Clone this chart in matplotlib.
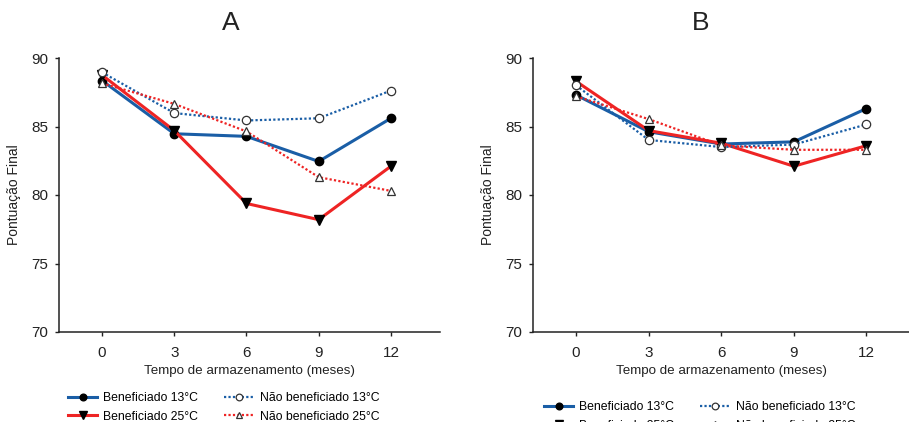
import matplotlib
matplotlib.use("Agg")
import matplotlib.pyplot as plt

# tempo de armazenamento (meses)
meses = [0, 3, 6, 9, 12]
meses_ticks = [0, 3, 6, 9, 12]
y_ticks = [70, 75, 80, 85, 90]

# painel A
a_benef_13 = [88.35, 84.47, 84.28, 82.45, 85.6]
a_benef_25 = [88.75, 84.7, 79.38, 78.2, 82.1]
a_nao_13 = [88.95, 85.98, 85.44, 85.6, 87.62]
a_nao_25 = [88.15, 86.65, 84.64, 81.3, 80.3]

# painel B
b_benef_13 = [87.3, 84.62, 83.72, 83.88, 86.31]
b_benef_25 = [88.3, 84.7, 83.78, 82.1, 83.6]
b_nao_13 = [88.0, 84.02, 83.5, 83.68, 85.15]
b_nao_25 = [87.2, 85.54, 83.62, 83.3, 83.3]

BLUE = "#1a5ea6"
RED = "#ee2424"
W, H = 909, 422

plt.rcParams['font.family'] = ['Liberation Sans', 'DejaVu Sans']

fig = plt.figure(figsize=(W / 100, H / 100), dpi=100)


def px_axes(left, right, top, bottom):
    return fig.add_axes([left / W, 1 - bottom / H, (right - left) / W, (bottom - top) / H])


def draw_panel(ax, b13, b25, n13, n25, xlim, title, title_x, leg_xy):
    ax.plot(meses, b13, color=BLUE, lw=2.2, marker="o", ms=6, mfc="black", mec="black",
            label="Beneficiado 13°C")
    ax.plot(meses, b25, color=RED, lw=2.2, marker="v", ms=6.5, mfc="black", mec="black",
            label="Beneficiado 25°C")
    ax.plot(meses, n13, color=BLUE, lw=1.6, ls=(0, (1, 1)), marker="o", ms=6, mfc="white",
            mec="#333333", mew=0.9, label="Não beneficiado 13°C")
    ax.plot(meses, n25, color=RED, lw=1.6, ls=(0, (1, 1)), marker="^", ms=6, mfc="white",
            mec="#333333", mew=0.9, label="Não beneficiado 25°C")
    ax.set_xlim(*xlim)
    ax.set_ylim(70, 90)
    ax.set_xticks(meses_ticks)
    ax.set_yticks(y_ticks)
    for s in ["top", "right"]:
        ax.spines[s].set_visible(False)
    for s in ["left", "bottom"]:
        ax.spines[s].set_color("#222222")
        ax.spines[s].set_linewidth(1.1)
    ax.tick_params(direction="out", length=3, width=1, labelsize=11, colors="#222222")
    ax.tick_params(axis="x", pad=7)
    ax.tick_params(axis="y", pad=5)
    ax.set_xlabel("Tempo de armazenamento (meses)", fontsize=9.6, color="#222222", labelpad=4)
    ax.set_ylabel("Pontuação Final", fontsize=10, color="#222222", labelpad=7)
    fig.text(title_x / W, 1 - 23 / H, title, fontsize=19, ha="center", va="center", color="#222222")
    ax.legend(loc="upper left", bbox_to_anchor=leg_xy, bbox_transform=fig.transFigure, ncol=2,
              frameon=False, fontsize=8.8, handlelength=2.4, handletextpad=0.5,
              columnspacing=2.1, labelspacing=0.55, markerscale=0.8)


ax_a = px_axes(59, 440, 58, 332)
draw_panel(ax_a, a_benef_13, a_benef_25, a_nao_13, a_nao_25, (-1.79, 14.04), "A", 231,
           (57 / W, 1 - 381 / H))

ax_b = px_axes(533, 909, 58, 332)
draw_panel(ax_b, b_benef_13, b_benef_25, b_nao_13, b_nao_25, (-1.78, 13.76), "B", 701,
           (533 / W, 1 - 390 / H))

fig.savefig("out.png", dpi=100)
